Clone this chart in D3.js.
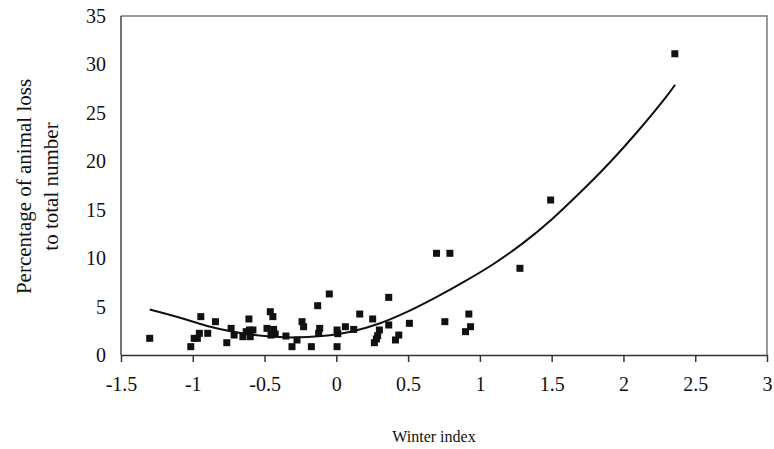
<!DOCTYPE html>
<html>
<head>
<meta charset="utf-8">
<script src="https://cdn.jsdelivr.net/npm/d3@7"></script>
<style>
body{margin:0;background:#fff;}
svg text{font-family:"Liberation Serif","Times New Roman",serif;fill:#111;}
</style>
</head>
<body>
<div id="container"></div>
<script>
// winter index vs. animal loss
var winterIndex = [-1.30,-1.014,-0.99,-0.968,-0.954,-0.944,-0.896,-0.842,-0.763,-0.733,
    -0.712,-0.651,-0.628,-0.609,-0.605,-0.581,-0.60,-0.483,-0.46,-0.442,
    -0.437,-0.426,-0.455,-0.351,-0.309,-0.274,-0.239,-0.228,-0.174,-0.13,
    -0.116,-0.123,-0.049,0.005,0.005,0.01,0.063,0.121,0.163,0.253,
    0.30,0.288,0.279,0.265,0.365,0.365,0.412,0.435,0.509,0.698,
    0.791,0.756,0.923,0.935,0.90,1.279,1.493,2.358];
var lossPct = [1.72,0.86,1.72,1.72,2.24,3.96,2.24,3.44,1.27,2.75,
    2.06,1.89,2.41,3.72,2.58,2.58,1.89,2.75,4.47,3.96,
    2.64,2.17,2.06,1.96,0.86,1.55,3.44,2.92,0.86,5.09,
    2.75,2.24,6.3,2.58,0.86,2.2,2.92,2.64,4.23,3.72,
    2.58,2.0,1.65,1.27,5.95,3.1,1.55,2.06,3.27,10.5,
    10.5,3.44,4.23,2.92,2.41,8.95,16.0,31.1];

// trend curve
var trendX = [-1.3,-1.1,-0.9,-0.7,-0.5,-0.3,-0.1,0.1,0.3,0.5,0.7,0.9,1.1,1.3,1.5,1.7,1.9,2.1,2.3,2.36];
var trendY = [4.7,3.9,3.0,2.35,1.95,1.8,1.95,2.4,3.25,4.5,6.0,7.65,9.45,11.55,14.0,16.8,19.8,23.1,26.7,27.9];

var xTicks = [-1.5,-1,-0.5,0,0.5,1,1.5,2,2.5,3];
var yTicks = [0,5,10,15,20,25,30,35];

function drawChart(id){
    var width = 774, height = 449;
    var pLeft = 121, pRight = 767, pTop = 16, pBottom = 355;

    var svg = d3.select('#' + id).append('svg')
        .attr('width', width)
        .attr('height', height);

    var x = d3.scaleLinear().domain([-1.5, 3]).range([pLeft, pRight]);
    var y = d3.scaleLinear().domain([0, 35]).range([pBottom, pTop]);

    // plot frame (top and right)
    svg.append('path')
        .attr('d', 'M' + pLeft + ',' + pTop + 'H' + pRight + 'V' + pBottom)
        .attr('fill', 'none')
        .attr('stroke', '#777')
        .attr('stroke-width', 1.5);

    // y axis: line only, labels
    svg.append('line')
        .attr('x1', pLeft).attr('x2', pLeft)
        .attr('y1', pTop).attr('y2', pBottom)
        .attr('stroke', '#444').attr('stroke-width', 1.5);
    svg.selectAll('.ylab').data(yTicks).enter().append('text')
        .attr('class', 'ylab')
        .attr('x', pLeft - 15)
        .attr('y', function(d){ return y(d); })
        .attr('dy', '0.35em')
        .attr('text-anchor', 'end')
        .attr('font-size', 20)
        .text(function(d){ return d; });

    // x axis
    var xAxis = d3.axisBottom(x).tickValues(xTicks).tickSize(7).tickSizeOuter(0)
        .tickFormat(function(d){ return d; });
    var gx = svg.append('g')
        .attr('transform', 'translate(0,' + pBottom + ')')
        .call(xAxis);
    gx.select('.domain').attr('stroke', '#333').attr('stroke-width', 1.5);
    gx.selectAll('.tick line').attr('stroke', '#333').attr('stroke-width', 1.5);
    gx.selectAll('.tick text')
        .attr('y', 22)
        .attr('font-family', '"Liberation Serif", serif')
        .attr('font-size', 20)
        .attr('fill', '#111');

    // trend line
    var trend = trendX.map(function(d, i){ return [d, trendY[i]]; });
    svg.append('path')
        .datum(trend)
        .attr('fill', 'none')
        .attr('stroke', '#111')
        .attr('stroke-width', 2)
        .attr('d', d3.line()
            .x(function(d){ return x(d[0]); })
            .y(function(d){ return y(d[1]); })
            .curve(d3.curveCatmullRom));

    // points
    var pts = winterIndex.map(function(d, i){ return [d, lossPct[i]]; });
    var s = 7;
    svg.selectAll('.pt').data(pts).enter().append('rect')
        .attr('class', 'pt')
        .attr('x', function(d){ return x(d[0]) - s/2; })
        .attr('y', function(d){ return y(d[1]) - s/2; })
        .attr('width', s)
        .attr('height', s)
        .attr('fill', '#111');

    // axis titles
    svg.append('text')
        .attr('x', (pLeft + pRight)/2 - 10)
        .attr('y', 442)
        .attr('text-anchor', 'middle')
        .attr('font-size', 16)
        .text('Winter index');

    var yt = svg.append('text')
        .attr('transform', 'translate(31,' + ((pTop + pBottom)/2 + 1) + ') rotate(-90)')
        .attr('text-anchor', 'middle')
        .attr('font-size', 21);
    yt.append('tspan').attr('x', 0).attr('dy', 0).text('Percentage of animal loss');
    yt.append('tspan').attr('x', 0).attr('dy', 27).text('to total number');
}
drawChart('container');
</script>
</body>
</html>
